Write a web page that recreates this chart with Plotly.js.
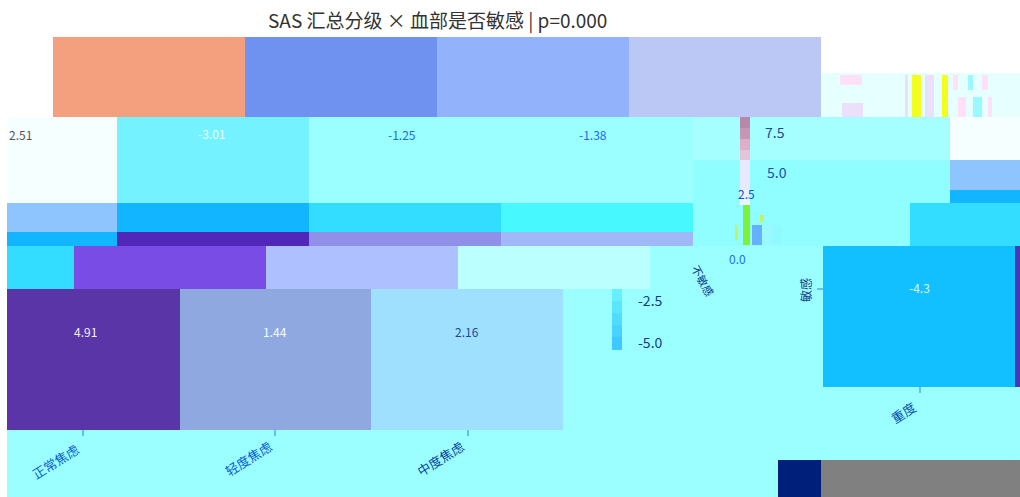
<!DOCTYPE html>
<html>
<head>
<meta charset="utf-8">
<script src="https://cdn.plot.ly/plotly-3.0.1.min.js"></script>
<style>html,body{margin:0;padding:0;background:#fff}#chart{width:1020px;height:497px}</style>
</head>
<body>
<div id="chart"></div>
<script>
// ---- chart content ----
const titleText = "SAS 汇总分级 × 血部是否敏感 | p=0.000";
const xCategories = ["正常焦虑", "轻度焦虑", "中度焦虑", "重度"];
const yCategories = ["不敏感", "敏感"];
const colorbarTicks = ["7.5", "5.0", "2.5", "0.0", "-2.5", "-5.0"];
const upperRowLabels = ["2.51", "-3.01", "-1.25", "-1.38"];
const lowerRowLabels = ["4.91", "1.44", "2.16", "-4.3"];

// ---- colour levels (reference colours, ordered by name) ----
const palette = {
  white:"#ffffff", near:"#f6ffff", pale:"#e6ffff", bg:"#9bffff", soft:"#a6ffff", cy2:"#90fdff",
  teal:"#75f2ff", sky:"#8fc5ff", azure:"#12b5ff", deep:"#12bfff", aqua:"#33ddff", neon:"#48f8ff",
  indigo:"#5027b8", periw:"#9090e8", haze:"#a0b8f8", orange:"#f4a07e", blue1:"#6f91f0", blue2:"#92b2fb",
  blue3:"#bbc8f5", violet:"#7a4ce6", lilac:"#aec0ff", ice:"#bbffff", plum:"#5935a8", steel:"#8fa8e0",
  powder:"#a0e0ff", edge:"#4a37b8", navy:"#001f7a", gray:"#808080", mauve:"#b888a8", mauve2:"#c498b4", rose:"#dcb0c8", rose2:"#e4c4d8",
  mist:"#e8e8ff", foam:"#e8f4ff", yellow:"#f2ff1e", pink:"#ffe0f6", lav:"#ecdffa", cyan3:"#9cf8ff",
  green:"#7df03a", lime:"#c4f06a", bar1:"#66f0ff", bar1b:"#5be6ff", bar2:"#50dcff", bar2b:"#48d2ff", bar3:"#3fc8ff", b1:"#66b0ff", b2:"#90f8ff"
};
const names = Object.keys(palette);
const n = names.length;
const colorscale = [];
names.forEach((k, i) => { colorscale.push([i / n, palette[k]], [(i + 1) / n, palette[k]]); });

// ---- tiles: x edges, y edges, colour names per row ----
const tiles = [
  [[7,1020],[117,497],[["bg"]]],
  [[53,245,437,629,821],[37,117],[["orange","blue1","blue2","blue3"]]],
  [[821,1020],[73,117],[["pale"]]],
  [[840,862],[75,85],[["pink"]]],
  [[842,863],[103,117],[["lav"]]],
  [[905,908,912,921,925,930,934,942,948,953,958,968,973,982,988,990],[75,90],
    [["lav","pale","yellow","pale","lav","lav","pale","yellow","pale","pink","pale","cyan3","pale","pink","pale"]]],
  [[905,908,912,921,925,930,934,942,948,958,966,973,982,988,992],[90,97,117],
    [["lav","pale","yellow","pale","lav","lav","pale","yellow","pale","pale","pale","pale","pale","pale"],
     ["lav","pale","yellow","pale","lav","lav","pale","yellow","pale","pink","pale","cyan3","pale","pink"]]],
  [[7,117,309,501,693,950,1020],[117,160,190,203],
    [["near","teal","bg","bg","soft","near"],
     ["near","teal","bg","bg","cy2","sky"],
     ["near","teal","bg","bg","cy2","azure"]]],
  [[7,117,309,501,693],[203,232,246],
    [["sky","azure","aqua","neon"],
     ["azure","indigo","periw","haze"]]],
  [[693,910,1020],[203,246],[["cy2","aqua"]]],
  [[7,74,266,458,650],[246,289],[["aqua","violet","lilac","ice"]]],
  [[7,180,371,563],[289,430],[["plum","steel","powder"]]],
  [[823,1015,1020],[246,387],[["deep","edge"]]],
  [[778,821,1020],[460,497],[["navy","gray"]]],
  [[740,750],[117,128,139,150,160,190,205],[["mauve"],["mauve2"],["rose"],["rose2"],["mist"],["foam"]]],
  [[743,750],[205,245],[["green"]]],
  [[735,738],[225,240],[["lime"]]],
  [[760,764],[215,222],[["lime"]]],
  [[752,762,772,782],[225,245],[["b1","cyan3","b2"]]],
  [[612,622],[289,301,313,325,337,350],[["bar1"],["bar1b"],["bar2"],["bar2b"],["bar3"]]]
];

const traces = tiles.map(([x, y, rows]) => ({
  type: "heatmap", x, y, z: rows.map(r => r.map(c => names.indexOf(c) + 0.5)),
  coloraxis: "coloraxis", hoverinfo: "skip", zsmooth: false
}));

// small tick marks, through the same axes
const tickSegs = [[83,430,83,436],[275,430,275,436],[468,430,468,436],[920,387,920,393],[817,289,823,289]];
traces.push({
  type: "scatter", mode: "lines", hoverinfo: "skip", showlegend: false,
  x: tickSegs.flatMap(s => [s[0], s[2], null]),
  y: tickSegs.flatMap(s => [s[1], s[3], null]),
  line: { color: "#2a7fe0", width: 1 }
});

const cjk = '"Noto Sans CJK SC","Noto Sans",sans-serif';
const note = (x, y, text, color, size, angle) => ({
  x, y, text, xref: "x", yref: "y", showarrow: false, textangle: angle || 0,
  font: { family: cjk, color, size }, xanchor: "center", yanchor: "middle"
});
const annotations = [
  note(437, 20, titleText, "#333333", 19),
  note(20, 134, upperRowLabels[0], "#555555", 12),
  note(211, 133, upperRowLabels[1], "#e8ffff", 12),
  note(402, 134, upperRowLabels[2], "#1a6ae8", 12),
  note(593, 134, upperRowLabels[3], "#1a6ae8", 12),
  note(85, 331, lowerRowLabels[0], "#f4f0ff", 12),
  note(275, 331, lowerRowLabels[1], "#f0ffff", 12),
  note(467, 331, lowerRowLabels[2], "#1c4a90", 12),
  note(919, 287, lowerRowLabels[3], "#d8fbff", 12),
  note(55, 461, xCategories[0], "#0a5cd0", 13, -32),
  note(248, 458, xCategories[1], "#0a5cd0", 13, -32),
  note(440, 458, xCategories[2], "#0a3f9c", 13, -32),
  note(903, 412, xCategories[3], "#0a4fb0", 13, -32),
  note(703, 280, yCategories[0], "#123a88", 11, 62),
  note(805, 290, yCategories[1], "#123a88", 12, -90),
  note(775, 132, colorbarTicks[0], "#1c4a90", 14),
  note(777, 172, colorbarTicks[1], "#1a50b0", 14),
  note(746, 193, colorbarTicks[2], "#1a50d0", 12),
  note(737, 258, colorbarTicks[3], "#1a70e0", 12),
  note(650, 300, colorbarTicks[4], "#123a88", 14),
  note(650, 342, colorbarTicks[5], "#123a88", 14)
];

const hiddenAxis = { visible: false, fixedrange: true, showgrid: false, zeroline: false };
Plotly.newPlot("chart", traces, {
  width: 1020, height: 497,
  margin: { l: 0, r: 0, t: 0, b: 0 },
  paper_bgcolor: "#ffffff", plot_bgcolor: "#ffffff",
  showlegend: false,
  coloraxis: { colorscale, cmin: 0, cmax: n, showscale: false },
  xaxis: Object.assign({ range: [0, 1020] }, hiddenAxis),
  yaxis: Object.assign({ range: [497, 0] }, hiddenAxis),
  annotations
}, { staticPlot: true, displayModeBar: false });
</script>
</body>
</html>
